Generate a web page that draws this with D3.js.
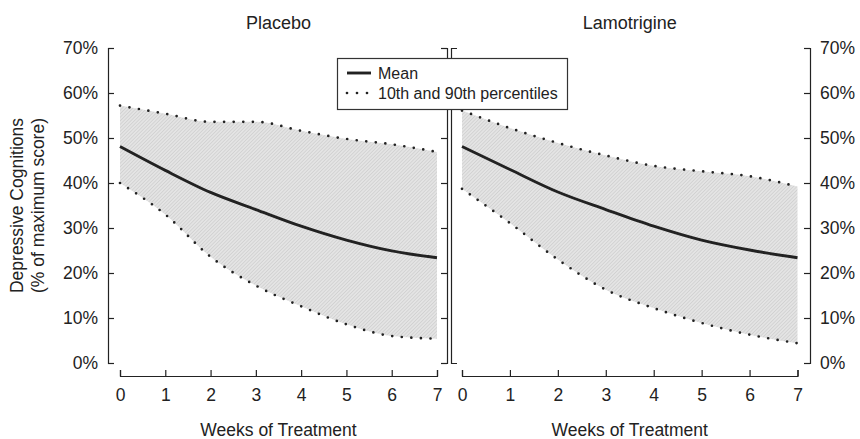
<!DOCTYPE html>
<html>
<head>
<meta charset="utf-8">
<script src="https://cdn.jsdelivr.net/npm/d3@7"></script>
<style>
  body { margin: 0; background: #fff; }
  svg { display: block; font-family: "Liberation Sans", Arial, Helvetica, sans-serif; }
  text { fill: #222; }
</style>
</head>
<body>
<svg id="chart" width="860" height="439"></svg>
<script>
const weeks = [0, 1, 2, 3, 4, 5, 6, 7];
const panelTitles = ["Placebo", "Lamotrigine"];
const yTicks = [0, 10, 20, 30, 40, 50, 60, 70];
const yTitleLines = ["Depressive Cognitions", "(% of maximum score)"];
const xTitle = "Weeks of Treatment";
const legendLabels = ["Mean", "10th and 90th percentiles"];

const placeboMean = [48.1, 42.8, 37.9, 34.1, 30.4, 27.3, 24.9, 23.4];
const placeboP90  = [57.2, 55.4, 53.6, 53.6, 51.6, 49.8, 48.6, 46.9];
const placeboP10  = [40.0, 33.0, 23.6, 17.2, 12.6, 8.6, 6.0, 5.4];

const lamoMean = [48.1, 43.0, 38.0, 34.1, 30.4, 27.3, 25.1, 23.4];
const lamoP90  = [56.1, 52.2, 48.9, 46.1, 43.8, 42.6, 41.5, 39.2];
const lamoP10  = [38.7, 31.1, 23.0, 16.3, 12.2, 8.9, 6.3, 4.4];

const svg = d3.select("#chart");
const ink = "#222";

// hatch pattern for band
const defs = svg.append("defs");
const pat = defs.append("pattern")
  .attr("id", "hatch").attr("patternUnits", "userSpaceOnUse")
  .attr("width", 2.5).attr("height", 2.5)
  .attr("patternTransform", "rotate(45)");
pat.append("rect").attr("width", 2.5).attr("height", 2.5).attr("fill", "#e4e4e4");
pat.append("line").attr("x1", 0).attr("y1", 0).attr("x2", 0).attr("y2", 2.5)
  .attr("stroke", "#c2c2c2").attr("stroke-width", 0.9);

const y = d3.scaleLinear().domain([0, 70]).range([363, 48]);
const xL = d3.scaleLinear().domain([0, 7]).range([120, 437]);
const xR = d3.scaleLinear().domain([0, 7]).range([462, 797.5]);

const panels = [
  { title: panelTitles[0], x: xL, mean: placeboMean, p90: placeboP90, p10: placeboP10 },
  { title: panelTitles[1], x: xR, mean: lamoMean, p90: lamoP90, p10: lamoP10 }
];

const curve = d3.curveMonotoneX;

panels.forEach(p => {
  const g = svg.append("g");
  const data = weeks.map((w, i) => ({ w, m: p.mean[i], hi: p.p90[i], lo: p.p10[i] }));
  const area = d3.area().curve(curve)
    .x(d => p.x(d.w)).y0(d => y(d.lo)).y1(d => y(d.hi));
  g.append("path").datum(data).attr("d", area).attr("fill", "url(#hatch)");

  const lineHi = d3.line().curve(curve).x(d => p.x(d.w)).y(d => y(d.hi));
  const lineLo = d3.line().curve(curve).x(d => p.x(d.w)).y(d => y(d.lo));
  const lineM = d3.line().curve(curve).x(d => p.x(d.w)).y(d => y(d.m));
  [lineHi, lineLo].forEach(l => {
    g.append("path").datum(data).attr("d", l)
      .attr("fill", "none").attr("stroke", ink).attr("stroke-width", 2.7)
      .attr("stroke-linecap", "round").attr("stroke-dasharray", "0 9.6");
  });
  g.append("path").datum(data).attr("d", lineM)
    .attr("fill", "none").attr("stroke", ink).attr("stroke-width", 2.9);

  // x axis
  const xa = g.append("g").attr("transform", "translate(0,376)")
    .call(d3.axisBottom(p.x).tickValues(weeks).tickFormat(d3.format("d"))
      .tickSize(-6).tickSizeOuter(-6).tickPadding(13));
  xa.selectAll("path, line").attr("stroke", ink).attr("stroke-width", 1.2);
  xa.selectAll("text").attr("font-size", 17.5).attr("fill", ink)
    .style("font-family", "'Liberation Sans', Arial, sans-serif");

  // panel title
  const cx = (p.x.range()[0] + p.x.range()[1]) / 2;
  svg.append("text").attr("x", cx).attr("y", 29).attr("text-anchor", "middle")
    .attr("font-size", 18).text(p.title);
  svg.append("text").attr("x", cx).attr("y", 436).attr("text-anchor", "middle")
    .attr("font-size", 17.5).text(xTitle);
});

function styleAxis(sel) {
  sel.selectAll("path, line").attr("stroke", ink).attr("stroke-width", 1.2);
  sel.selectAll("text").attr("font-size", 17.5).attr("fill", ink)
    .style("font-family", "'Liberation Sans', Arial, sans-serif");
}

// left-most y axis with labels
const pct = d => d + "%";
svg.append("g").attr("transform", "translate(108,0)")
  .call(d3.axisLeft(y).tickValues(yTicks).tickFormat(pct)
    .tickSize(-6).tickSizeOuter(-6).tickPadding(10))
  .call(styleAxis);

// left panel right axis (no labels)
svg.append("g").attr("transform", "translate(447,0)")
  .call(d3.axisRight(y).tickValues(yTicks).tickFormat("")
    .tickSize(-6).tickSizeOuter(-6))
  .call(styleAxis);

// right panel left axis (end ticks only)
svg.append("g").attr("transform", "translate(451,0)")
  .call(d3.axisLeft(y).tickValues([]).tickSizeOuter(-6))
  .call(styleAxis);

// right-most y axis with labels
svg.append("g").attr("transform", "translate(810,0)")
  .call(d3.axisRight(y).tickValues(yTicks).tickFormat(pct)
    .tickSize(-6).tickSizeOuter(-6).tickPadding(10))
  .call(styleAxis);

// y axis title
const yt = svg.append("text")
  .attr("transform", `translate(0,${(y(0) + y(70)) / 2}) rotate(-90)`)
  .attr("text-anchor", "middle").attr("font-size", 17.5);
yt.append("tspan").attr("x", 0).attr("y", 23).text(yTitleLines[0]);
yt.append("tspan").attr("x", 0).attr("y", 44).text(yTitleLines[1]);

// legend
const lg = svg.append("g").attr("transform", "translate(337,58)");
lg.append("rect").attr("x", 0.5).attr("y", 0.5).attr("width", 230).attr("height", 51)
  .attr("fill", "#fff").attr("stroke", "#333").attr("stroke-width", 1.2);
lg.append("line").attr("x1", 10).attr("x2", 34).attr("y1", 15).attr("y2", 15)
  .attr("stroke", ink).attr("stroke-width", 2.9);
lg.append("line").attr("x1", 10).attr("x2", 32).attr("y1", 35).attr("y2", 35)
  .attr("stroke", ink).attr("stroke-width", 2.7).attr("stroke-linecap", "round")
  .attr("stroke-dasharray", "0 10");
lg.append("text").attr("x", 41).attr("y", 15).attr("dy", "0.35em")
  .attr("font-size", 16).text(legendLabels[0]);
lg.append("text").attr("x", 41).attr("y", 35).attr("dy", "0.35em")
  .attr("font-size", 16).text(legendLabels[1]);
</script>
</body>
</html>
